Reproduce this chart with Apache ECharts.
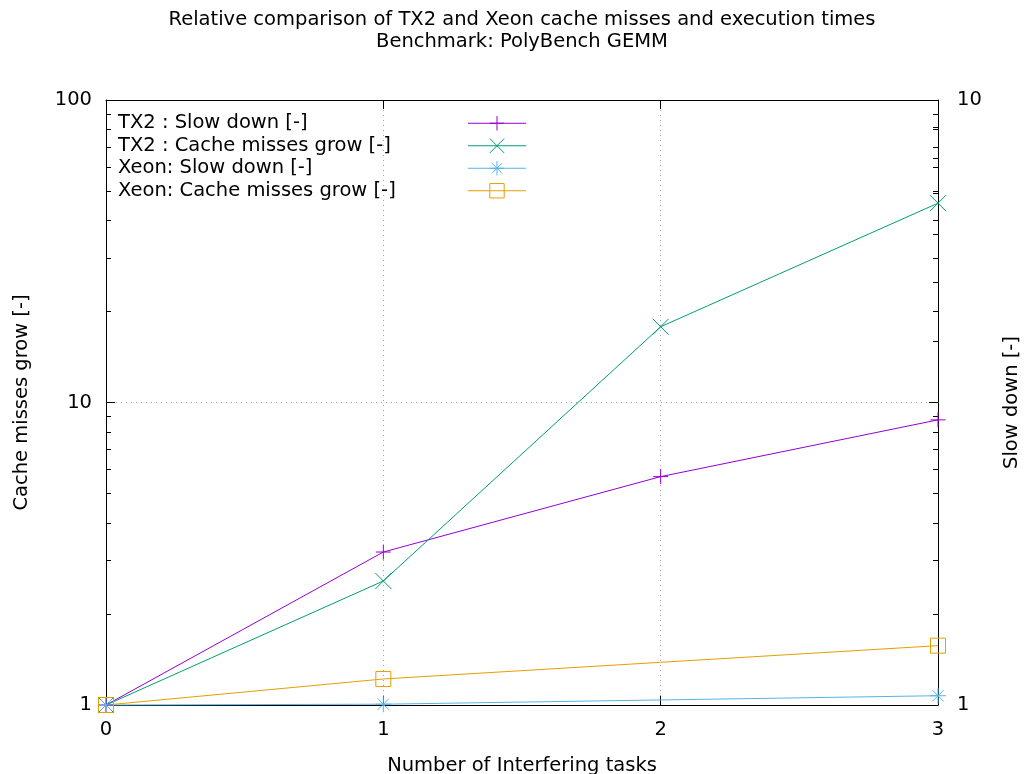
<!DOCTYPE html>
<html><head><meta charset="utf-8">
<script src="https://cdn.jsdelivr.net/npm/echarts@6/dist/echarts.min.js"></script>
<style>html,body{margin:0;padding:0;background:#fff}#c{width:1024px;height:774px}</style>
</head><body><div id="c"></div>
<script>
const titleLines = ['Relative comparison of TX2 and Xeon cache misses and execution times', 'Benchmark: PolyBench GEMM'];
const xAxisName = 'Number of Interfering tasks';
const leftAxisName = 'Cache misses grow [-]';
const rightAxisName = 'Slow down [-]';
const seriesNames = ['TX2 : Slow down [-]', 'TX2 : Cache misses grow [-]', 'Xeon: Slow down [-]', 'Xeon: Cache misses grow [-]'];
const tx2Tasks = [0, 1, 2, 3];
const xeonTasks = [0, 1, 3];
const tx2SlowDown = [1, 1.79, 2.385, 2.96];
const tx2CacheGrow = [1, 2.57, 17.8, 45.6];
const xeonSlowDown = [1, 1.003, 1.036];
const xeonCacheGrow = [1, 1.219, 1.571];
const xTicks = [0, 1, 2, 3];
const leftMajorTicks = [1, 10, 100];
const leftMinorTicks = [2, 3, 4, 5, 6, 7, 8, 9, 20, 30, 40, 50, 60, 70, 80, 90];
const rightMajorTicks = [1, 10];
const rightMinorTicks = [2, 3, 4, 5, 6, 7, 8, 9];

const FONT = 'DejaVu Sans';
const FS = 19.5;
const colors = ['#9400d3', '#009e73', '#56b4e9', '#e69f00'];
const symbols = [
  'path://M0,-1L0,1M-1,0L1,0',
  'path://M-1,-1L1,1M-1,1L1,-1',
  'path://M0,-1L0,1M-1,0L1,0M-0.707,-0.707L0.707,0.707M-0.707,0.707L0.707,-0.707',
  'path://M-1,-1L1,-1L1,1L-1,1Z'
];
const pairs = (xs, ys) => xs.map((x, i) => [x, ys[i]]);
const seriesData = [pairs(tx2Tasks, tx2SlowDown), pairs(tx2Tasks, tx2CacheGrow), pairs(xeonTasks, xeonSlowDown), pairs(xeonTasks, xeonCacheGrow)];
const seriesAxis = [2, 0, 2, 0];
const symSizes = [15, 16, 16, 15];

const black = '#000';
function logAxis(o) {
  return Object.assign({
    type: 'log', logBase: 10, gridIndex: 0,
    axisLine: {show: false, onZero: false},
    axisTick: {show: false},
    axisLabel: {show: false},
    splitLine: {show: false}
  }, o);
}
const option = {
  animation: false,
  backgroundColor: '#fff',
  textStyle: {fontFamily: FONT},
  graphic: titleLines.map((t, i) => ({
    type: 'text', x: 522, y: 20 + i * 22,
    style: {text: t, font: FS + 'px "' + FONT + '"', fill: black, align: 'center', verticalAlign: 'middle'}
  })),
  grid: {left: 106, right: 86, top: 100, bottom: 69, containLabel: false, outerBoundsMode: 'none'},
  legend: {
    orient: 'vertical', left: 118, top: 112, padding: 0,
    align: 'right', itemWidth: 58, itemHeight: 18, itemGap: 0,
    selectedMode: false,
    data: seriesNames,
    formatter: n => '{a|' + n + '}',
    itemStyle: {borderWidth: 1},
    lineStyle: {width: 1},
    textStyle: {fontFamily: FONT, fontSize: FS, color: black, lineHeight: 22.5,
      rich: {a: {width: 345, align: 'left', fontFamily: FONT, fontSize: FS, color: black, lineHeight: 22.5}}}
  },
  xAxis: [
    {type: 'value', position: 'bottom', min: 0, max: 3, interval: 1,
      axisLine: {show: true, onZero: false, lineStyle: {color: black, width: 1}},
      axisTick: {show: true, inside: true, length: 9, lineStyle: {color: black}},
      axisLabel: {fontFamily: FONT, fontSize: FS, color: black, margin: 15},
      splitLine: {show: true, lineStyle: {color: '#a0a0a0', width: 1, type: [1, 4]}},
      name: xAxisName, nameLocation: 'middle', nameGap: 51,
      nameTextStyle: {fontFamily: FONT, fontSize: FS, color: black}},
    {type: 'value', position: 'top', min: 0, max: 3, interval: 1,
      axisLine: {show: true, onZero: false, lineStyle: {color: black, width: 1}},
      axisTick: {show: true, inside: true, length: 9, lineStyle: {color: black}},
      axisLabel: {show: false}, splitLine: {show: false}}
  ],
  yAxis: [
    logAxis({position: 'left', min: 1, max: 100,
      axisLine: {show: true, onZero: false, lineStyle: {color: black, width: 1}},
      axisTick: {show: true, inside: true, length: 9, customValues: leftMajorTicks, lineStyle: {color: black}},
      axisLabel: {show: true, customValues: leftMajorTicks, fontFamily: FONT, fontSize: FS, color: black, margin: 14},
      splitLine: {show: true, lineStyle: {color: '#a0a0a0', width: 1, type: [1, 4]}},
      name: leftAxisName, nameLocation: 'middle', nameRotate: 90, nameGap: 74,
      nameTextStyle: {fontFamily: FONT, fontSize: FS, color: black}}),
    logAxis({position: 'left', min: 1, max: 100,
      axisTick: {show: true, inside: true, length: 5, customValues: leftMinorTicks, lineStyle: {color: black}}}),
    logAxis({position: 'right', min: 1, max: 10,
      axisLine: {show: true, onZero: false, lineStyle: {color: black, width: 1}},
      axisTick: {show: true, inside: true, length: 9, customValues: rightMajorTicks, lineStyle: {color: black}},
      axisLabel: {show: true, customValues: rightMajorTicks, fontFamily: FONT, fontSize: FS, color: black, margin: 19},
      name: rightAxisName, nameLocation: 'middle', nameRotate: 90, nameGap: 64,
      nameTextStyle: {fontFamily: FONT, fontSize: FS, color: black}}),
    logAxis({position: 'right', min: 1, max: 10,
      axisTick: {show: true, inside: true, length: 5, customValues: rightMinorTicks, lineStyle: {color: black}}}),
    logAxis({position: 'right', min: 1, max: 100,
      axisTick: {show: true, inside: true, length: 9, customValues: leftMajorTicks, lineStyle: {color: black}}}),
    logAxis({position: 'right', min: 1, max: 100,
      axisTick: {show: true, inside: true, length: 5, customValues: leftMinorTicks, lineStyle: {color: black}}})
  ],
  series: seriesNames.map((name, i) => ({
    name: name, type: 'line', xAxisIndex: 0, yAxisIndex: seriesAxis[i],
    data: seriesData[i],
    symbol: symbols[i], symbolSize: symSizes[i], showAllSymbol: true,
    clip: false,
    lineStyle: {color: colors[i], width: 1},
    itemStyle: {color: i === 3 ? 'rgba(0,0,0,0)' : colors[i], borderColor: colors[i], borderWidth: 1},
    emphasis: {disabled: true}
  }))
};
const chart = echarts.init(document.getElementById('c'), null, {renderer: 'canvas'});
chart.setOption(option);
</script>
</body></html>
